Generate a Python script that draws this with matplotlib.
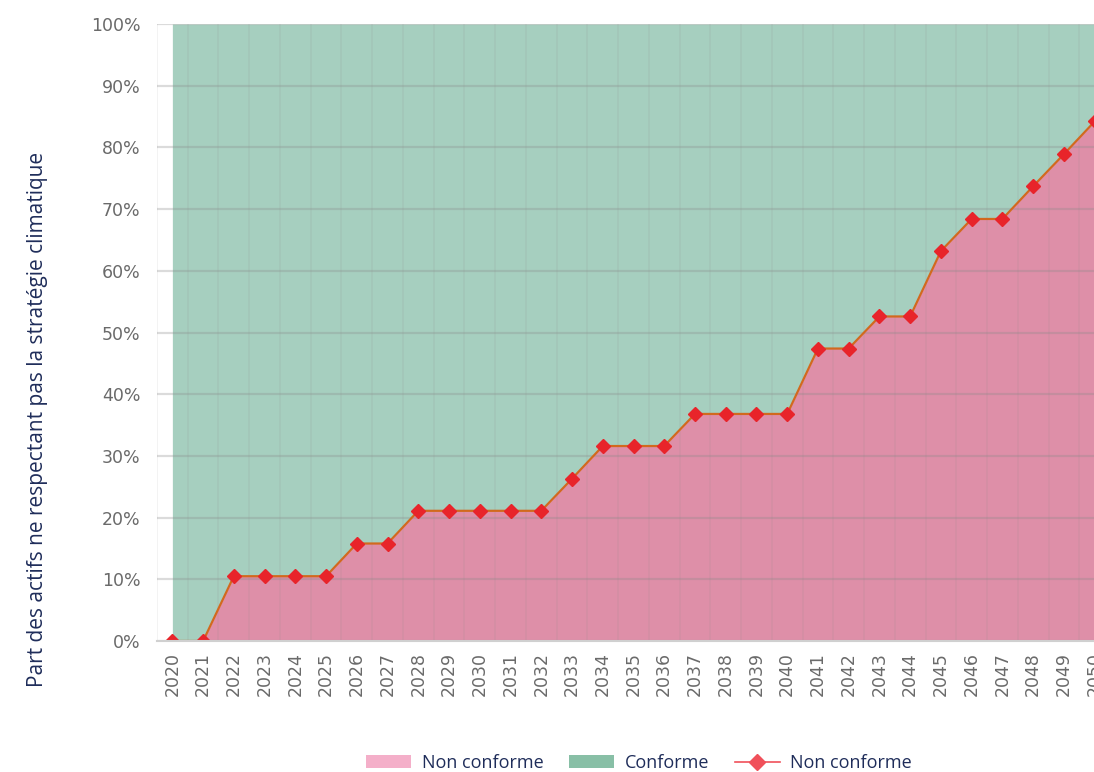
import matplotlib
matplotlib.use("Agg")
import matplotlib.pyplot as plt
from matplotlib.patches import Patch
from matplotlib.lines import Line2D
import numpy as np

years = list(range(2020, 2051))
non_conforme = [0.0, 0.0, 10.5, 10.5, 10.5, 10.5, 15.8, 15.8, 21.1, 21.1, 21.1, 21.1, 21.1,
                26.3, 31.6, 31.6, 31.6, 36.8, 36.8, 36.8, 36.8, 47.4, 47.4, 52.6, 52.6,
                63.2, 68.4, 68.4, 73.7, 78.9, 84.2]
y_ticks = [0, 10, 20, 30, 40, 50, 60, 70, 80, 90, 100]
y_label = "Part des actifs ne respectant pas la stratégie climatique"
legend_labels = ["Non conforme", "Conforme", "Non conforme"]

W, H = 1094, 772
fig = plt.figure(figsize=(W / 100, H / 100), dpi=100)
ax = fig.add_axes([157 / W, 1 - 641 / H, (1110 - 157) / W, (641 - 24) / H])

x = np.array(years)
y = np.array(non_conforme)
ax.fill_between(x, y, 100, color="#a6cfbf", linewidth=0, zorder=1)
ax.fill_between(x, 0, y, color="#de8fa8", linewidth=0, zorder=1)

# grid
for t in y_ticks:
    ax.axhline(t, color="#8a8a8a", alpha=0.3, linewidth=1.6, zorder=2)
for b in np.arange(2019.5, 2051, 1.0):
    ax.axvline(b, color="#8a8a8a", alpha=0.12, linewidth=1.2, zorder=2)

ax.plot(x, y, color="#d2691e", linewidth=1.6, zorder=3)
ax.plot(x, y, linestyle="none", marker="D", markersize=7, color="#e8242a",
        markeredgecolor="#e8242a", zorder=4)

ax.set_xlim(2019.5, 2050.5)
ax.set_ylim(0, 100)
ax.set_yticks(y_ticks)
ax.set_yticklabels([f"{t}%" for t in y_ticks], fontsize=12.5, color="#6a6a6a",
                   family="DejaVu Sans")
ax.set_xticks(years)
ax.set_xticklabels([str(v) for v in years], rotation=90, fontsize=12.5,
                   color="#6a6a6a", family="DejaVu Sans")
ax.tick_params(axis="both", length=0)
ax.tick_params(axis="x", pad=8)
ax.tick_params(axis="y", pad=12)
for s in ax.spines.values():
    s.set_visible(False)
ax.axhline(0, color="#d0d0d0", linewidth=1.5, zorder=5, clip_on=False)

fig.text(38 / W, 1 - 419 / H, y_label, rotation=90, ha="center", va="center",
         fontsize=15, color="#1f2d5a", family="Open Sans")

handles = [Patch(facecolor="#f4afc9", edgecolor="none"),
           Patch(facecolor="#88bfa6", edgecolor="none"),
           Line2D([0], [0], color="#f0505a", marker="D", markersize=8, linewidth=1.2)]
fig.legend(handles, legend_labels, loc="center", bbox_to_anchor=(639 / W, 1 - 763 / H),
           ncol=3, frameon=False, labelcolor="#1f2d5a",
           prop={"family": "Open Sans", "size": 13}, handlelength=2.5, columnspacing=1.4,
           handletextpad=0.6)

fig.savefig("out.png", dpi=100)
